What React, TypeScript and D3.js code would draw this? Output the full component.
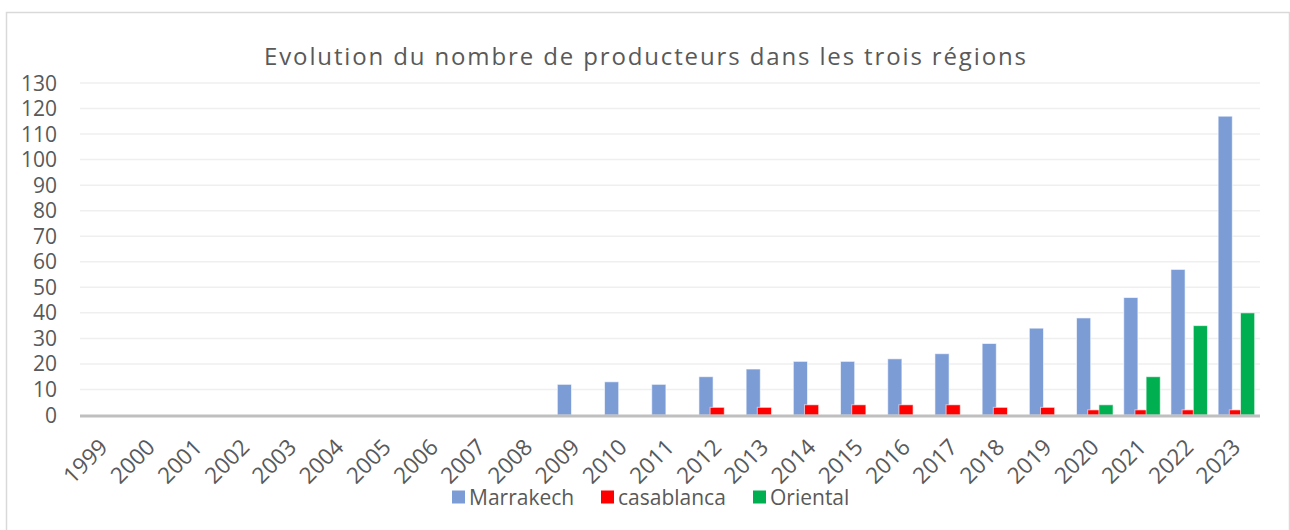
import React from 'react';
import * as d3 from 'd3';

const years = ['1999', '2000', '2001', '2002', '2003', '2004', '2005', '2006', '2007', '2008', '2009', '2010', '2011',
  '2012', '2013', '2014', '2015', '2016', '2017', '2018', '2019', '2020', '2021', '2022', '2023'];
const marrakech = [0, 0, 0, 0, 0, 0, 0, 0, 0, 0, 12, 13, 12, 15, 18, 21, 21, 22, 24, 28, 34, 38, 46, 57, 117];
const casablanca = [0, 0, 0, 0, 0, 0, 0, 0, 0, 0, 0, 0, 0, 3, 3, 4, 4, 4, 4, 3, 3, 2, 2, 2, 2];
const oriental = [0, 0, 0, 0, 0, 0, 0, 0, 0, 0, 0, 0, 0, 0, 0, 0, 0, 0, 0, 0, 0, 4, 15, 35, 40];
const yTicks = d3.range(0, 131, 10);

const series = [
  { name: 'Marrakech', values: marrakech, color: '#7c9cd6' },
  { name: 'casablanca', values: casablanca, color: '#ff0000' },
  { name: 'Oriental', values: oriental, color: '#00b050' },
];

const W = 1290;
const H = 530;
const font = "'Open Sans', 'Liberation Sans', sans-serif";
const textColor = '#595959';

export default function App() {
  const x = d3.scaleBand().domain(years).range([80, 1260]).padding(0);
  const y = d3.scaleLinear().domain([0, 130]).range([415, 83]);
  const bw = x.bandwidth();
  const barW = bw * 0.3;
  const step = bw * 0.237;

  const legendPos = [452, 601, 753];

  return (
    <svg width={W} height={H} style={{ position: 'fixed', left: 0, top: 0, background: '#fff' }}
      fontFamily={font}>
      <rect x={6.5} y={12.5} width={1283} height={530} fill="#fff" stroke="#d9d9d9" strokeWidth={1.5} />
      <text x={645} y={65} textAnchor="middle" fontSize={24} fill={textColor}
        textLength={762} lengthAdjust="spacing">
        Evolution du nombre de producteurs dans les trois régions
      </text>

      {yTicks.map(t => (
        <g key={t}>
          {t > 0 && <line x1={80} x2={1260} y1={y(t)} y2={y(t)} stroke="#efefef" strokeWidth={1.5} />}
          <text x={57} y={y(t)} dy="0.36em" textAnchor="end" fontSize={21} fill={textColor}>{t}</text>
        </g>
      ))}

      {series.map((s, si) => (
        <g key={s.name}>
          {years.map((yr, i) => {
            const v = s.values[i];
            if (!v) return null;
            const cx = (x(yr) as number) + bw / 2;
            const bx = cx + (si - 1) * step - barW / 2;
            return (
              <rect key={yr} x={bx} y={y(v)} width={barW} height={y(0) - y(v)}
                fill={s.color} stroke="rgba(255,255,255,0.6)" strokeWidth={1} />
            );
          })}
        </g>
      ))}

      <line x1={80} x2={1260} y1={y(0) + 1} y2={y(0) + 1} stroke="#bfbfbf" strokeWidth={3} />

      {years.map(yr => {
        const cx = (x(yr) as number) + bw / 2;
        return (
          <text key={yr} transform={`translate(${cx},${443}) rotate(-45)`} textAnchor="end"
            dy="0.35em" fontSize={22.5} fill={textColor}>{yr}</text>
        );
      })}

      {series.map((s, i) => (
        <g key={s.name} transform={`translate(${legendPos[i]},497)`}>
          <rect x={0} y={-6.5} width={13} height={13} fill={s.color} />
          <text x={17} y={0} dy="0.36em" fontSize={21} fill={textColor}>{s.name}</text>
        </g>
      ))}
    </svg>
  );
}
